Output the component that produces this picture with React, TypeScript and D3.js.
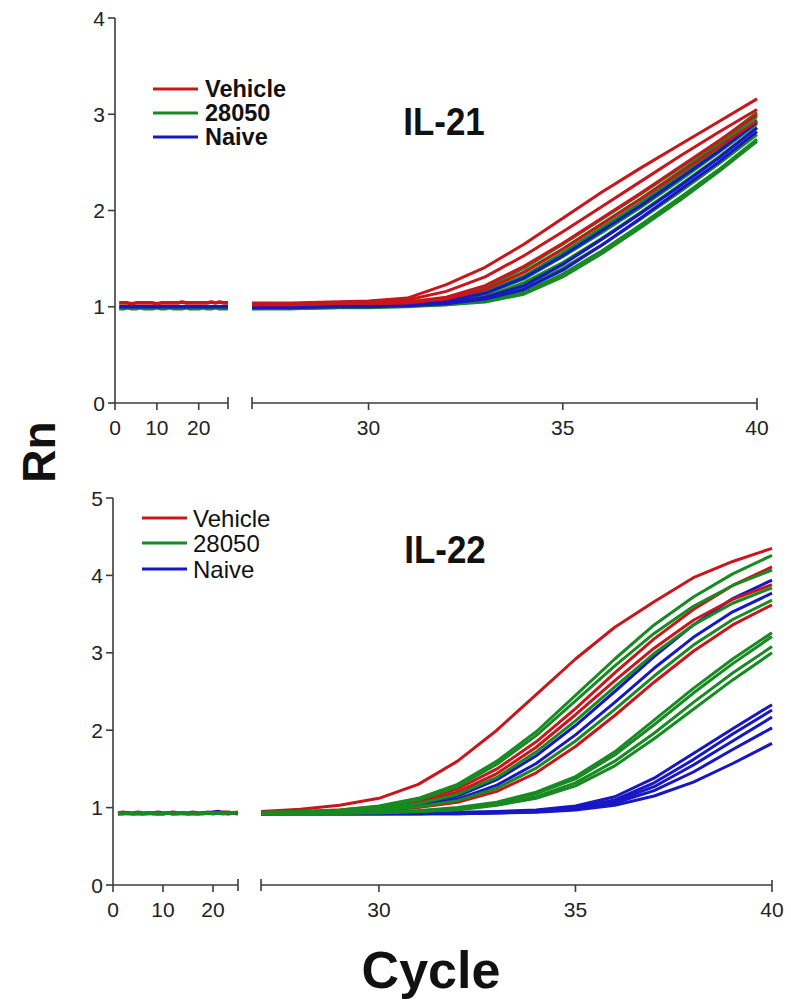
import React from 'react';
import * as d3 from 'd3';

// ---- shared categories ----
const GROUPS = ['Vehicle', '28050', 'Naive'];
const GROUP_COLORS: Record<string, string> = {
  Vehicle: '#c8161c',
  '28050': '#178a22',
  Naive: '#1717c4',
};

const LATE_CYCLES = [27, 28, 29, 30, 31, 32, 33, 34, 35, 36, 37, 38, 39, 40];
const IL21_EARLY_CYCLES = [1, 2, 3, 4, 5, 6, 7, 8, 9, 10, 11, 12, 13, 14, 15, 16, 17, 18, 19, 20, 21, 22, 23, 24, 25, 26, 27];
const IL22_EARLY_CYCLES = [1, 2, 3, 4, 5, 6, 7, 8, 9, 10, 11, 12, 13, 14, 15, 16, 17, 18, 19, 20, 21, 22, 23, 24, 25];

const IL21_Y_TICKS = [0, 1, 2, 3, 4];
const IL22_Y_TICKS = [0, 1, 2, 3, 4, 5];
const EARLY_X_TICKS = [0, 10, 20];
const LATE_X_TICKS = [30, 35, 40];

// ---- IL-21: baseline cycles (1-27) per group ----
const IL21_EARLY_VEHICLE = [1.04, 1.04, 1.04, 1.03, 1.04, 1.04, 1.04, 1.04, 1.04, 1.03, 1.04, 1.04, 1.04, 1.04, 1.04, 1.05, 1.04, 1.04, 1.04, 1.04, 1.04, 1.04, 1.05, 1.04, 1.05, 1.04, 1.04];
const IL21_EARLY_28050 = [0.98, 0.98, 0.99, 0.98, 0.98, 0.99, 0.98, 0.98, 0.98, 0.99, 0.98, 0.98, 0.99, 0.98, 0.98, 0.98, 0.99, 0.98, 0.98, 0.98, 0.99, 0.98, 0.98, 0.99, 0.98, 0.98, 0.98];
const IL21_EARLY_NAIVE = [1.0, 1.0, 1.0, 1.0, 1.0, 1.0, 1.0, 1.0, 1.0, 1.0, 1.0, 1.0, 1.0, 1.0, 1.0, 1.0, 1.0, 1.0, 1.0, 1.0, 1.0, 1.0, 1.0, 1.0, 1.0, 1.0, 1.0];

// ---- IL-21: amplification cycles (27-40), one row per well ----
const IL21_LATE_VEHICLE = [
  [1.04, 1.04, 1.05, 1.06, 1.09, 1.23, 1.41, 1.65, 1.92, 2.19, 2.44, 2.68, 2.92, 3.16],
  [1.03, 1.03, 1.04, 1.05, 1.07, 1.16, 1.31, 1.53, 1.78, 2.04, 2.30, 2.56, 2.81, 3.05],
  [1.02, 1.02, 1.03, 1.04, 1.05, 1.10, 1.22, 1.42, 1.66, 1.92, 2.18, 2.45, 2.72, 3.00],
  [1.02, 1.02, 1.03, 1.03, 1.04, 1.08, 1.18, 1.36, 1.60, 1.86, 2.12, 2.39, 2.66, 2.93],
];
const IL21_LATE_28050 = [
  [1.0, 1.0, 1.01, 1.02, 1.04, 1.09, 1.20, 1.40, 1.65, 1.91, 2.17, 2.44, 2.71, 3.02],
  [1.0, 1.0, 1.01, 1.02, 1.03, 1.07, 1.17, 1.36, 1.60, 1.86, 2.12, 2.40, 2.68, 2.98],
  [0.99, 1.0, 1.0, 1.01, 1.03, 1.06, 1.15, 1.32, 1.56, 1.82, 2.08, 2.36, 2.64, 2.94],
  [0.99, 0.99, 1.0, 1.01, 1.02, 1.05, 1.13, 1.29, 1.52, 1.77, 2.03, 2.31, 2.60, 2.90],
  [0.99, 0.99, 1.0, 1.01, 1.02, 1.04, 1.10, 1.25, 1.46, 1.71, 1.98, 2.26, 2.55, 2.86],
  [0.98, 0.99, 0.99, 1.0, 1.01, 1.03, 1.08, 1.20, 1.40, 1.64, 1.91, 2.19, 2.48, 2.79],
  [0.98, 0.98, 0.99, 1.0, 1.01, 1.02, 1.06, 1.15, 1.34, 1.58, 1.85, 2.13, 2.42, 2.74],
  [0.98, 0.98, 0.99, 0.99, 1.0, 1.02, 1.05, 1.13, 1.31, 1.55, 1.82, 2.10, 2.40, 2.72],
];
const IL21_LATE_NAIVE = [
  [1.0, 1.0, 1.01, 1.02, 1.03, 1.06, 1.14, 1.30, 1.53, 1.79, 2.05, 2.33, 2.61, 2.92],
  [1.0, 1.0, 1.0, 1.01, 1.02, 1.04, 1.10, 1.22, 1.44, 1.70, 1.97, 2.25, 2.54, 2.86],
  [0.99, 0.99, 1.0, 1.0, 1.01, 1.03, 1.08, 1.18, 1.38, 1.64, 1.92, 2.21, 2.50, 2.82],
];

// ---- IL-22: baseline cycles (1-25) per group ----
const IL22_EARLY_VEHICLE = [0.93, 0.94, 0.93, 0.93, 0.94, 0.93, 0.93, 0.93, 0.94, 0.93, 0.93, 0.94, 0.93, 0.93, 0.93, 0.94, 0.93, 0.93, 0.94, 0.93, 0.93, 0.94, 0.94, 0.93, 0.94];
const IL22_EARLY_28050 = [0.92, 0.93, 0.92, 0.92, 0.93, 0.92, 0.92, 0.93, 0.92, 0.92, 0.93, 0.92, 0.93, 0.92, 0.92, 0.93, 0.92, 0.92, 0.93, 0.92, 0.93, 0.92, 0.93, 0.93, 0.93];
const IL22_EARLY_NAIVE = [0.92, 0.92, 0.93, 0.92, 0.92, 0.92, 0.93, 0.92, 0.92, 0.92, 0.93, 0.92, 0.92, 0.93, 0.92, 0.92, 0.92, 0.93, 0.93, 0.94, 0.95, 0.93, 0.92, 0.93, 0.92];

// ---- IL-22: amplification cycles (27-40) ----
const IL22_LATE_VEHICLE = [
  [0.95, 0.98, 1.03, 1.12, 1.30, 1.60, 2.00, 2.46, 2.92, 3.33, 3.66, 3.97, 4.18, 4.35],
  [0.94, 0.95, 0.97, 1.01, 1.09, 1.24, 1.50, 1.85, 2.28, 2.74, 3.18, 3.56, 3.87, 4.11],
  [0.93, 0.94, 0.96, 1.0, 1.07, 1.20, 1.44, 1.78, 2.20, 2.64, 3.06, 3.42, 3.69, 3.88],
  [0.93, 0.93, 0.94, 0.96, 1.0, 1.07, 1.21, 1.45, 1.79, 2.19, 2.62, 3.02, 3.36, 3.62],
];
const IL22_LATE_28050 = [
  [0.94, 0.95, 0.97, 1.02, 1.12, 1.30, 1.60, 1.98, 2.45, 2.92, 3.36, 3.72, 4.02, 4.26],
  [0.93, 0.94, 0.96, 1.01, 1.10, 1.27, 1.56, 1.93, 2.38, 2.83, 3.25, 3.60, 3.87, 4.07],
  [0.93, 0.94, 0.95, 0.99, 1.05, 1.17, 1.39, 1.72, 2.12, 2.56, 2.99, 3.36, 3.64, 3.84],
  [0.93, 0.93, 0.94, 0.97, 1.01, 1.09, 1.25, 1.51, 1.86, 2.27, 2.70, 3.10, 3.43, 3.68],
  [0.93, 0.93, 0.93, 0.94, 0.96, 1.0, 1.07, 1.20, 1.40, 1.72, 2.13, 2.54, 2.92, 3.26],
  [0.93, 0.93, 0.93, 0.94, 0.96, 0.99, 1.06, 1.18, 1.37, 1.68, 2.07, 2.48, 2.86, 3.21],
  [0.93, 0.93, 0.93, 0.94, 0.95, 0.98, 1.04, 1.14, 1.32, 1.60, 1.96, 2.36, 2.74, 3.08],
  [0.92, 0.92, 0.93, 0.93, 0.95, 0.97, 1.03, 1.12, 1.28, 1.54, 1.89, 2.27, 2.65, 3.0],
];
const IL22_LATE_NAIVE = [
  [0.93, 0.94, 0.95, 0.98, 1.04, 1.15, 1.36, 1.67, 2.06, 2.50, 2.95, 3.36, 3.70, 3.94],
  [0.92, 0.93, 0.94, 0.97, 1.02, 1.11, 1.29, 1.57, 1.94, 2.36, 2.80, 3.20, 3.53, 3.77],
  [0.92, 0.92, 0.92, 0.92, 0.93, 0.94, 0.95, 0.97, 1.02, 1.14, 1.38, 1.70, 2.02, 2.33],
  [0.92, 0.92, 0.92, 0.92, 0.92, 0.93, 0.94, 0.96, 1.0, 1.10, 1.32, 1.62, 1.95, 2.26],
  [0.92, 0.92, 0.92, 0.92, 0.92, 0.93, 0.94, 0.95, 0.99, 1.08, 1.27, 1.55, 1.86, 2.17],
  [0.92, 0.92, 0.92, 0.92, 0.92, 0.92, 0.93, 0.95, 0.98, 1.06, 1.22, 1.46, 1.75, 2.03],
  [0.92, 0.92, 0.92, 0.92, 0.92, 0.92, 0.93, 0.94, 0.97, 1.03, 1.15, 1.33, 1.57, 1.83],
];

const FONT = "'Liberation Sans', Arial, Helvetica, sans-serif";
const AXIS_COLOR = '#3c3c3c';

type Frame = {
  x0: number; aEnd: number; aMax: number; bStart: number; bEnd: number;
  yTop: number; yBottom: number;
};

type PanelProps = {
  title: string;
  titleY: number;
  titleX: number;
  frame: Frame;
  yTicks: number[];
  earlyCycles: number[];
  early: Record<string, number[]>;
  late: Record<string, number[][]>;
  drawOrder: string[];
  legend: { x1: number; x2: number; textX: number; rows: number[]; size: number; bold: boolean };
  tickFont: number;
};

function Panel({ title, titleX, titleY, frame, yTicks, earlyCycles, early, late, drawOrder, legend, tickFont }: PanelProps) {
  const xa = d3.scaleLinear().domain([0, frame.aMax]).range([frame.x0, frame.aEnd]);
  const xb = d3.scaleLinear().domain([27, 40]).range([frame.bStart, frame.bEnd]);
  const y = d3.scaleLinear().domain([0, yTicks[yTicks.length - 1]]).range([frame.yBottom, frame.yTop]);

  const lineA = d3.line<number>().x((_, i) => xa(earlyCycles[i])).y((v) => y(v));
  const lineB = d3.line<number>().x((_, i) => xb(LATE_CYCLES[i])).y((v) => y(v));

  const axisY = y(0);
  const stroke = { stroke: AXIS_COLOR, strokeWidth: 1.6 };

  return (
    <g>
      {/* data */}
      {drawOrder.map((g) => (
        <g key={g} fill="none" stroke={GROUP_COLORS[g]} strokeWidth={3} strokeLinejoin="round">
          <path d={lineA(early[g]) || ''} strokeWidth={3.6} />
          {late[g].map((row, i) => (
            <path key={i} d={lineB(row) || ''} />
          ))}
        </g>
      ))}

      {/* y axis */}
      <line x1={frame.x0} x2={frame.x0} y1={y(yTicks[yTicks.length - 1])} y2={axisY} {...stroke} />
      {yTicks.map((t) => (
        <g key={t}>
          <line x1={frame.x0 - 7} x2={frame.x0} y1={y(t)} y2={y(t)} {...stroke} />
          <text x={frame.x0 - 10} y={y(t) + tickFont * 0.36} textAnchor="end" fontSize={tickFont} fontFamily={FONT} fill="#222">
            {t}
          </text>
        </g>
      ))}

      {/* x axis, early segment */}
      <line x1={frame.x0} x2={xa(frame.aMax)} y1={axisY} y2={axisY} {...stroke} />
      <line x1={xa(frame.aMax)} x2={xa(frame.aMax)} y1={axisY - 6} y2={axisY + 6} {...stroke} />
      {EARLY_X_TICKS.map((t) => (
        <g key={t}>
          <line x1={xa(t)} x2={xa(t)} y1={axisY} y2={axisY + 7} {...stroke} />
          <text x={xa(t)} y={axisY + 32} textAnchor="middle" fontSize={tickFont} fontFamily={FONT} fill="#222">
            {t}
          </text>
        </g>
      ))}

      {/* x axis, late segment */}
      <line x1={xb(27)} x2={xb(40)} y1={axisY} y2={axisY} {...stroke} />
      <line x1={xb(27)} x2={xb(27)} y1={axisY - 6} y2={axisY + 6} {...stroke} />
      {LATE_X_TICKS.map((t) => (
        <g key={t}>
          <line x1={xb(t)} x2={xb(t)} y1={t === 40 ? axisY - 5 : axisY} y2={axisY + 7} {...stroke} />
          <text x={xb(t)} y={axisY + 32} textAnchor="middle" fontSize={tickFont} fontFamily={FONT} fill="#222">
            {t}
          </text>
        </g>
      ))}

      {/* title */}
      <text
        transform={`translate(${titleX},${titleY}) scale(0.92,1)`}
        textAnchor="middle"
        fontSize={38}
        fontWeight="bold"
        fontFamily={FONT}
        fill="#111"
      >
        {title}
      </text>

      {/* legend */}
      {GROUPS.map((g, i) => (
        <g key={g}>
          <line x1={legend.x1} x2={legend.x2} y1={legend.rows[i]} y2={legend.rows[i]} stroke={GROUP_COLORS[g]} strokeWidth={3} />
          <text
            x={legend.textX}
            y={legend.rows[i] + legend.size * 0.36}
            fontSize={legend.size}
            fontWeight={legend.bold ? 'bold' : 'normal'}
            fontFamily={FONT}
            fill="#111"
          >
            {g}
          </text>
        </g>
      ))}
    </g>
  );
}

export default function App() {
  return (
    <svg
      width={791}
      height={1001}
      viewBox="0 0 791 1001"
      style={{ position: 'absolute', left: 0, top: 0, background: '#fff' }}
    >
      <rect width={791} height={1001} fill="#fff" />
      <Panel
        title="IL-21"
        titleX={444}
        titleY={135}
        frame={{ x0: 115, aEnd: 228, aMax: 27, bStart: 252, bEnd: 757, yTop: 18, yBottom: 403 }}
        yTicks={IL21_Y_TICKS}
        earlyCycles={IL21_EARLY_CYCLES}
        early={{ Vehicle: IL21_EARLY_VEHICLE, '28050': IL21_EARLY_28050, Naive: IL21_EARLY_NAIVE }}
        late={{ Vehicle: IL21_LATE_VEHICLE, '28050': IL21_LATE_28050, Naive: IL21_LATE_NAIVE }}
        drawOrder={['28050', 'Naive', 'Vehicle']}
        legend={{ x1: 153, x2: 198, textX: 205, rows: [89, 113, 137], size: 23.5, bold: true }}
        tickFont={21}
      />
      <Panel
        title="IL-22"
        titleX={445}
        titleY={563}
        frame={{ x0: 113, aEnd: 238, aMax: 25, bStart: 261, bEnd: 772, yTop: 498, yBottom: 885 }}
        yTicks={IL22_Y_TICKS}
        earlyCycles={IL22_EARLY_CYCLES}
        early={{ Vehicle: IL22_EARLY_VEHICLE, '28050': IL22_EARLY_28050, Naive: IL22_EARLY_NAIVE }}
        late={{ Vehicle: IL22_LATE_VEHICLE, '28050': IL22_LATE_28050, Naive: IL22_LATE_NAIVE }}
        drawOrder={['Naive', 'Vehicle', '28050']}
        legend={{ x1: 142, x2: 187, textX: 193, rows: [518, 543, 569], size: 24, bold: false }}
        tickFont={21}
      />

      {/* shared axis titles */}
      <text
        transform="translate(55,452) rotate(-90)"
        textAnchor="middle"
        fontSize={46}
        fontWeight="bold"
        fontFamily={FONT}
        fill="#111"
      >
        Rn
      </text>
      <text x={431} y={988} textAnchor="middle" fontSize={52} fontWeight="bold" fontFamily={FONT} fill="#111">
        Cycle
      </text>
    </svg>
  );
}
